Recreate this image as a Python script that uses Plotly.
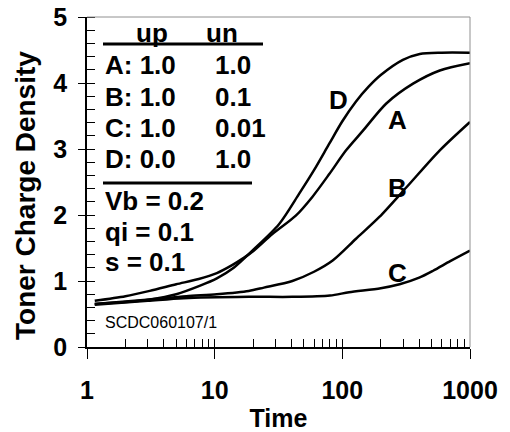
import plotly.graph_objects as go

# ---- data ----
A_t = [1.15, 2, 3.1, 5, 7.5, 10.4, 13.7, 16.9, 20, 28.3, 43.2, 58, 79, 107, 144, 221, 358, 580, 1000]
A_y = [0.70, 0.77, 0.85, 0.95, 1.03, 1.12, 1.24, 1.35, 1.45, 1.71, 1.99, 2.27, 2.62, 2.98, 3.27, 3.69, 3.99, 4.19, 4.30]

D_t = [1.15, 2, 3.1, 5, 7.7, 10.4, 14.1, 20, 31.9, 45.8, 60, 79, 100, 128, 160, 200, 298, 404, 600, 1000]
D_y = [0.65, 0.68, 0.72, 0.80, 0.93, 1.04, 1.20, 1.47, 1.86, 2.32, 2.68, 3.08, 3.42, 3.72, 3.94, 4.12, 4.35, 4.44, 4.46, 4.46]

B_t = [1.15, 3.1, 6, 10.4, 18.5, 24.3, 40.6, 60, 84, 128, 195, 318, 580, 1000]
B_y = [0.65, 0.72, 0.77, 0.80, 0.85, 0.90, 1.00, 1.14, 1.31, 1.64, 1.97, 2.42, 2.98, 3.41]

C_t = [1.15, 3, 5.7, 18.5, 40.6, 80, 113, 200, 281, 400, 514, 700, 1000]
C_y = [0.64, 0.70, 0.74, 0.76, 0.76, 0.78, 0.83, 0.89, 0.95, 1.05, 1.155, 1.30, 1.46]

x_ticks = [1, 10, 100, 1000]
x_ticktext = ["1", "10", "100", "1000"]
y_ticks = [0, 1, 2, 3, 4, 5]

x_title = "Time"
y_title = "Toner Charge Density"
table_header = ["up", "un"]
table_rows = [("A: 1.0", "1.0"), ("B: 1.0", "0.1"), ("C: 1.0", "0.01"), ("D: 0.0", "1.0")]
params = ["Vb = 0.2", "qi = 0.1", "s = 0.1"]
code_label = "SCDC060107/1"
curve_labels = ["D", "A", "B", "C"]

# ---- layout geometry (pixels) ----
W, H = 510, 432
L, R, T, B = 87, 40, 17, 85
PW, PH = W - L - R, H - T - B


def px(x, y):
    return (x - L) / PW, (H - B - y) / PH


FONT = "Liberation Sans, Arial, sans-serif"

fig = go.Figure()
for t, y in [(A_t, A_y), (D_t, D_y), (B_t, B_y), (C_t, C_y)]:
    fig.add_trace(go.Scatter(x=t, y=y, mode="lines",
                             line=dict(color="black", width=2.5, shape="spline", smoothing=0.8),
                             showlegend=False, hoverinfo="skip"))
# invisible trace for overlay axes (crossing ticks)
fig.add_trace(go.Scatter(x=[1], y=[0], xaxis="x2", yaxis="y2", mode="markers",
                         marker=dict(opacity=0), showlegend=False, hoverinfo="skip"))

minor_x = [m * 10 ** e for e in range(3) for m in range(2, 10)]

fig.update_layout(
    width=W, height=H,
    margin=dict(l=L, r=R, t=T, b=B),
    paper_bgcolor="white", plot_bgcolor="white",
    font=dict(family=FONT, color="black"),
    xaxis=dict(type="log", range=[0, 3], tickvals=x_ticks, ticktext=x_ticktext,
               ticks="outside", ticklen=10, tickwidth=1, tickcolor="black",
               minor=dict(tickvals=minor_x, ticks="inside", ticklen=8, tickcolor="black", tickwidth=1, showgrid=False),
               showline=True, linecolor="black", linewidth=1.5,
               showgrid=False, zeroline=False, automargin=False,
               tickfont=dict(size=25, weight="bold"),
               ticklabelstandoff=10,
               title=dict(text=x_title, font=dict(size=25, weight="bold"), standoff=10)),
    yaxis=dict(range=[0, 5], tickvals=y_ticks,
               ticks="outside", ticklen=7, tickwidth=1, tickcolor="black",
               minor=dict(dtick=0.2, ticks="inside", ticklen=8, tickcolor="black", tickwidth=1, showgrid=False),
               showline=True, linecolor="black", linewidth=1.5,
               showgrid=False, zeroline=False, automargin=False,
               tickfont=dict(size=25, weight="bold"),
               ticklabelstandoff=6),
    xaxis2=dict(type="log", range=[0, 3], tickvals=x_ticks, overlaying="x", anchor="y2",
                ticks="inside", ticklen=8, tickwidth=1, tickcolor="black", automargin=False,
                showticklabels=False, showline=False, showgrid=False, zeroline=False),
    yaxis2=dict(range=[0, 5], tickvals=y_ticks, overlaying="y", anchor="x2",
                ticks="inside", ticklen=7, tickwidth=1, tickcolor="black", automargin=False,
                showticklabels=False, showline=False, showgrid=False, zeroline=False),
)

# top & right gray border
fig.add_shape(type="line", xref="paper", yref="paper", x0=0, x1=1, y0=1, y1=1,
              line=dict(color="#909090", width=1))
fig.add_shape(type="line", xref="paper", yref="paper", x0=1, x1=1, y0=0, y1=1,
              line=dict(color="#909090", width=1))

BIG = dict(size=26, family=FONT, color="black")


def ann(text, x, y, xanchor="left", font=BIG, bold=True, angle=0):
    xp, yp = px(x, y)
    fig.add_annotation(text=f"<b>{text}</b>" if bold else text, x=xp, y=yp,
                       xref="paper", yref="paper", xanchor=xanchor, yanchor="middle",
                       showarrow=False, font=font, textangle=angle)


# y-axis title (placed as in the reference, slightly below centre)
ann(y_title, 25, 196, "center", font=dict(size=28, family=FONT, color="black"), angle=-90)

# table header
ann(table_header[0], 152, 33, "center")
ann(table_header[1], 222, 33, "center")
# underline lines
for (y, x1) in [(44, 263), (183, 252)]:
    xa, ya = px(103, y)
    xb, _ = px(x1, y)
    fig.add_shape(type="line", xref="paper", yref="paper", x0=xa, x1=xb, y0=ya, y1=ya,
                  line=dict(color="black", width=3))

row_y = [65, 97, 128, 159]
for (c1, c2), y in zip(table_rows, row_y):
    ann(c1, 103, y)
    ann(c2, 213, y)

for p, y in zip(params, [201, 232, 262]):
    ann(p, 103, y)

ann(code_label, 103, 322, font=dict(size=16, family=FONT, color="black"), bold=False)

for lab, (x, y) in zip(curve_labels, [(338, 100), (397, 120), (397, 188), (397, 273)]):
    ann(lab, x, y, "center")

fig.write_html("out.html")
